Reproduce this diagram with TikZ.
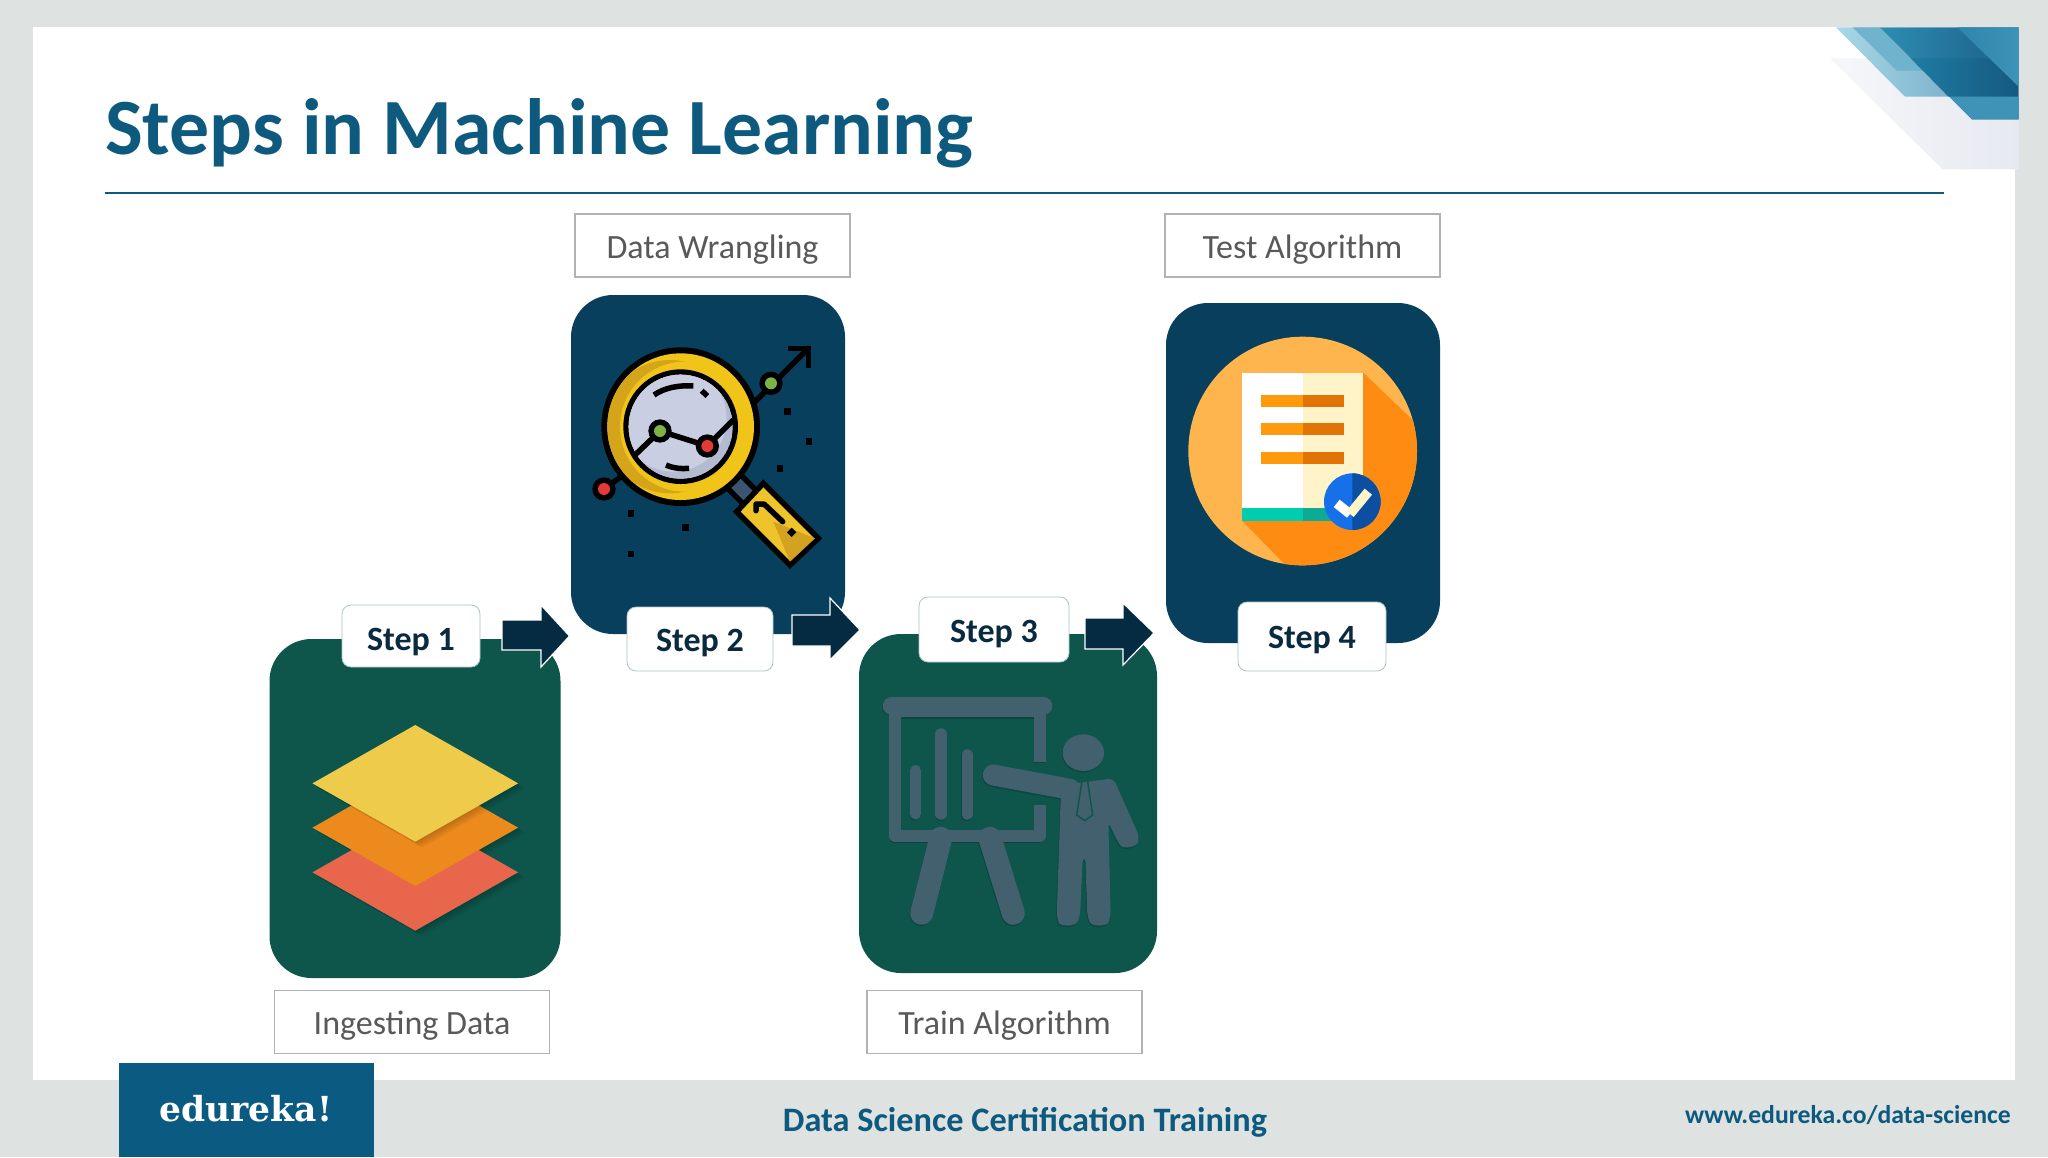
\documentclass[tikz,border=0pt]{standalone}
\usepackage{fontspec}
\setmainfont{Carlito}
\newfontfamily\logofont{DejaVu Serif}
\definecolor{bgc}{HTML}{DEE3E2}
\definecolor{navy}{HTML}{0B5A82}
\definecolor{titlec}{HTML}{0E5A7E}
\definecolor{cardg}{HTML}{0E564C}
\definecolor{cardb}{HTML}{083F5C}
\definecolor{arrowc}{HTML}{052B42}
\definecolor{labelc}{HTML}{595959}
\definecolor{boxc}{HTML}{B0B3B3}
\definecolor{stepc}{HTML}{0A2A3F}
\definecolor{figc}{HTML}{43606F}
\definecolor{figs}{HTML}{0A463F}
\definecolor{ringc}{HTML}{F0C419}
\definecolor{ringd}{HTML}{D4A51A}
\definecolor{decoG}{HTML}{E6E9F0}
\definecolor{decoL}{HTML}{F6F7FA}
\definecolor{decoA}{HTML}{A6D8E6}
\definecolor{decoB}{HTML}{7FB3CC}
\definecolor{decoC}{HTML}{6FB4CC}
\definecolor{decoD}{HTML}{2E8DB2}
\definecolor{decoE}{HTML}{1A5E88}
\definecolor{decoF}{HTML}{1F7BA3}
\definecolor{decoH}{HTML}{15597F}
\definecolor{decoI}{HTML}{2E84AA}
\definecolor{decoJ}{HTML}{3D94B8}
\definecolor{decoK}{HTML}{3F93B6}
\definecolor{layerR}{HTML}{E8664B}
\definecolor{layerO}{HTML}{EC8A1D}
\definecolor{layerY}{HTML}{EFCB4B}
\definecolor{dotG}{HTML}{7CB342}
\definecolor{dotR}{HTML}{E53935}
\definecolor{neckc}{HTML}{3B5570}
\definecolor{handleY}{HTML}{EFC42B}
\definecolor{handleD}{HTML}{D3A220}
\definecolor{glassA}{HTML}{C9CEE2}
\definecolor{glassB}{HTML}{B4BACF}
\definecolor{sunA}{HTML}{FFB54D}
\definecolor{sunB}{HTML}{FF8C12}
\definecolor{creamc}{HTML}{FFF3C9}
\definecolor{tealA}{HTML}{00CDB0}
\definecolor{tealB}{HTML}{0DAA96}
\definecolor{lineA}{HTML}{FF9A0D}
\definecolor{lineB}{HTML}{E27405}
\definecolor{checkA}{HTML}{1570EA}
\definecolor{checkB}{HTML}{0B4EA2}
\definecolor{stepedge}{HTML}{A9C4C4}
\tikzset{
  card/.style={rounded corners=42pt,inner sep=0pt,draw=none},
  stepbox/.style={draw=stepedge,fill=white,line width=0.8pt,rounded corners=9pt,inner sep=0pt,text=stepc,text depth=7pt,font=\fontsize{34}{40}\selectfont\bfseries},
  namebox/.style={draw=boxc,fill=white,line width=1.3pt,minimum width=275pt,minimum height=63pt,inner sep=0pt,text=labelc,text height=32pt,text depth=7pt,font=\fontsize{34}{42}\selectfont},
  flowarrow/.style={fill=arrowc,draw=white,line width=1.2pt,miter limit=10},
  blackline/.style={draw=black,line width=5.5pt,line cap=round,line join=round},
  sq/.style={fill=black},
  fig/.style={line cap=round,line join=round}
}
\newcommand{\sqdot}[2]{\fill[sq] (#1-10,#2-10) rectangle (#1+10,#2+10);}
\newcommand{\pointdot}[3]{\fill[black] (#1,#2) circle (35); \fill[#3] (#1,#2) circle (18);}
\newcommand{\teacher}[1]{%
  \draw[#1,fig,line width=18pt] (125,228) -- (580,228);
  \draw[#1,line width=11.5pt,line join=round] (570,395) -- (570,245) -- (135,245) -- (135,618) -- (570,618) -- (570,525);
  \draw[#1,fig,line width=11pt] (197,422) -- (197,552);
  \draw[#1,fig,line width=11.5pt] (273,312) -- (273,552);
  \draw[#1,fig,line width=11.5pt] (352,375) -- (352,552);
  \draw[#1,line width=23pt,line cap=round] (272,625) -- (215,850);
  \draw[#1,line width=23pt,line cap=round] (420,625) -- (490,850);
  \fill[#1] (700,368) ellipse (62 and 55);
  \draw[#1,fig,line width=21pt] (430,435) -- (660,478);
  \fill[#1,rounded corners=6pt] (640,465) -- (790,445) -- (868,620) .. controls (860,650) and (820,660) .. (800,630) -- (775,575) -- (782,860) .. controls (770,890) and (725,890) .. (712,860) -- (706,680) -- (698,680) -- (690,860) .. controls (675,890) and (630,890) .. (620,860) -- (632,505) -- cycle;
}
\begin{document}
\begin{tikzpicture}[x=1pt,y=-1pt]
\useasboundingbox (0,0) rectangle (2048,1157);
\fill[bgc] (0,0) rectangle (2048,1157);
\fill[white] (33,27) rectangle (2015,1080);
% corner decoration
\begin{scope}[shift={(1780,0)},scale=1/3]
  \shade[left color=decoL,right color=decoG] (150,175) -- (716,175) -- (716,508) -- (488,508) -- cycle;
  \shade[left color=decoA,right color=decoB] (168,82) -- (300,82) -- (505,290) -- (375,290) -- cycle;
  \fill[decoC] (218,82) -- (300,82) -- (430,212) -- (350,212) -- cycle;
  \shade[left color=decoD,right color=decoE] (300,82) -- (716,82) -- (716,358) -- (576,358) -- cycle;
  \shade[left color=decoF,right color=decoH] (392,175) -- (716,175) -- (716,290) -- (505,290) -- cycle;
  \shade[left color=decoI,right color=decoJ] (532,82) -- (716,82) -- (716,260) -- cycle;
  \fill[decoK] (508,290) -- (716,290) -- (716,358) -- (576,358) -- cycle;
\end{scope}
% title
\node[anchor=base west,inner sep=0pt,text=titlec,font=\fontsize{79.8}{90}\selectfont\bfseries] (title) at (105,154) {Steps in Machine Learning};
\coordinate (ruleL) at (105,193);
\coordinate (ruleR) at (1944,193);
\draw[titlec,line width=2pt] (ruleL) -- (ruleR);
% name boxes
\node[namebox] (nameB) at (712.5,245.5) {Data Wrangling};
\node[namebox] (nameD) at (1302.5,245.5) {Test Algorithm};
\node[namebox] (nameA) at (412,1022) {Ingesting Data};
\node[namebox] (nameC) at (1004.5,1022) {Train Algorithm};
% card 1
\node[card,fill=cardg,minimum width=291pt,minimum height=339pt] (cardA) at (415,808.5) {};
\begin{scope}[shift={(250,590)},xscale=0.3954,yscale=1/3]
  \foreach \k in {3,6,9,12,15,18}{
    \fill[black,opacity=0.03] (158+\k,847+\k) -- (418+\k,672+\k) -- (678+\k,847+\k) -- (418+\k,1022+\k) -- cycle;
    \fill[black,opacity=0.03] (158+\k,713+\k) -- (418+\k,538+\k) -- (678+\k,713+\k) -- (418+\k,888+\k) -- cycle;
  }
  \fill[layerR] (158,847) -- (418,672) -- (678,847) -- (418,1022) -- cycle;
  \fill[layerO] (158,713) -- (418,538) -- (678,713) -- (418,888) -- cycle;
  \foreach \k in {3,6,9,12,15,18}{
    \fill[black,opacity=0.03] (158+\k,580+\k) -- (418+\k,405+\k) -- (678+\k,580+\k) -- (418+\k,755+\k) -- cycle;
  }
  \fill[layerY] (158,580) -- (418,405) -- (678,580) -- (418,755) -- cycle;
\end{scope}
\node[stepbox,text height=35pt,minimum width=138pt,minimum height=62pt] (stepA) at (411,636) {Step 1};
% card 2
\node[card,fill=cardb,minimum width=274pt,minimum height=339pt] (cardB) at (708,464.5) {};
\begin{scope}[shift={(560,280)},scale=1/3]
  \draw[blackline] (585,365) -- (745,205);
  \draw[blackline,line cap=butt,line join=miter] (685,205) -- (745,205) -- (745,265);
  \draw[blackline] (132,627) -- (190,585);
  \pointdot{633}{310}{dotG}
  \pointdot{132}{627}{dotR}
  \sqdot{683}{394}\sqdot{747}{484}\sqdot{660}{565}\sqdot{213}{701}\sqdot{377}{742}\sqdot{213}{822}
  \draw[black,line width=24pt] (520,602) -- (572,654);
  \draw[neckc,line width=13pt] (520,602) -- (572,654);
  \fill[handleY,draw=black,line width=5.5pt,line join=miter] (610,610) -- (775,775) -- (690,855) -- (530,695) -- cycle;
  \fill[handleD] (640,725) -- (765,775) -- (690,845) -- cycle;
  \draw[blackline] (588,692) -- (588,672) -- (612,672) -- (668,725);
  \fill[black,rotate around={45:(695,757)}] (685,747) rectangle (705,767);
  \fill[black] (362,440) circle (238);
  \fill[ringc] (362,440) circle (220);
  \begin{scope}
    \clip (362,440) circle (220);
    \fill[ringd] (330,440) circle (200);
    \fill[ringc] (375,440) circle (195);
  \end{scope}
  \fill[black] (362,440) circle (172);
  \fill[glassA] (362,440) circle (156);
  \begin{scope}
    \clip (362,440) circle (156);
    \fill[glassB] (362,440) circle (156);
    \fill[glassA] (340,415) circle (160);
  \end{scope}
  \draw[blackline,line cap=butt] (282,345) .. controls (315,322) and (360,315) .. (400,318);
  \draw[blackline,line cap=butt] (425,332) -- (442,348);
  \draw[blackline,line cap=butt] (318,555) .. controls (340,565) and (365,567) .. (387,565);
  \draw[blackline,line cap=butt] (225,525) -- (300,453) -- (442,498) -- (520,420);
  \pointdot{300}{453}{dotG}
  \pointdot{442}{498}{dotR}
\end{scope}
\node[stepbox,text height=32pt,minimum width=146pt,minimum height=64pt] (stepB) at (700,639) {Step 2};
% card 3
\node[card,fill=cardg,minimum width=298pt,minimum height=339pt] (cardC) at (1008,803.5) {};
\begin{scope}[shift={(850,630)},scale=1/3]
  \begin{scope}[shift={(-2,4)}]\teacher{figs}\end{scope}
  \teacher{figc}
  \draw[cardg,line width=1.5pt,line join=round] (697,448) -- (680,555) -- (704,572) -- (728,555) -- (712,448);
\end{scope}
\node[stepbox,text height=32pt,minimum width=150pt,minimum height=65pt] (stepC) at (994,629.5) {Step 3};
% card 4
\node[card,fill=cardb,minimum width=274pt,minimum height=340pt] (cardD) at (1303,473) {};
\begin{scope}[shift={(1150,290)},scale=1/3]
  \fill[sunA] (458,483) circle (343);
  \begin{scope}
    \clip (458,483) circle (343);
    \fill[sunB] (640,248) -- (840,440) -- (840,900) -- (480,900) -- (277,693) -- cycle;
  \end{scope}
  \fill[white] (277,248) rectangle (458,655);
  \fill[creamc] (458,248) rectangle (638,655);
  \fill[tealA] (277,655) rectangle (458,693);
  \fill[tealB] (458,655) rectangle (560,693);
  \foreach \yy in {314,400,486}{
    \fill[lineA] (333,\yy) rectangle (458,\yy+36);
    \fill[lineB] (458,\yy) rectangle (582,\yy+36);
  }
  \fill[checkA] (607,635) circle (85);
  \begin{scope}
    \clip (607,540) rectangle (700,730);
    \fill[checkB] (607,635) circle (85);
  \end{scope}
  \draw[white,line width=9.5pt] (560,640) -- (600,672);
  \draw[creamc,line width=9.5pt] (600,672) -- (655,605);
\end{scope}
\node[stepbox,text height=30pt,minimum width=148pt,minimum height=69pt] (stepD) at (1312,636.5) {Step 4};
% arrows
\draw[flowarrow] (541,620) -- (502,620) -- (502,650) -- (541,650) -- (541,667) -- (569.5,636) -- (541,605) -- cycle;
\draw[flowarrow] (830,615) -- (792,615) -- (792,646) -- (830,646) -- (830,660) -- (860,630) -- (830,598) -- cycle;
\draw[flowarrow] (1123,618) -- (1085,618) -- (1085,649) -- (1123,649) -- (1123,665) -- (1154,633) -- (1123,603) -- cycle;
% footer
\fill[navy] (119,1063) rectangle (374,1157);
\node[inner sep=0pt,text=white,font=\logofont\fontsize{34.5}{40}\selectfont\bfseries] (logo) at (246,1109) {edureka!};
\node[inner sep=0pt,text=titlec,font=\fontsize{34.3}{40}\selectfont\bfseries] (course) at (1025,1122) {Data Science Certification Training};
\node[inner sep=0pt,text=titlec,font=\fontsize{25.7}{32}\selectfont\bfseries] (site) at (1848,1115) {www.edureka.co/data-science};
\end{tikzpicture}
\end{document}
